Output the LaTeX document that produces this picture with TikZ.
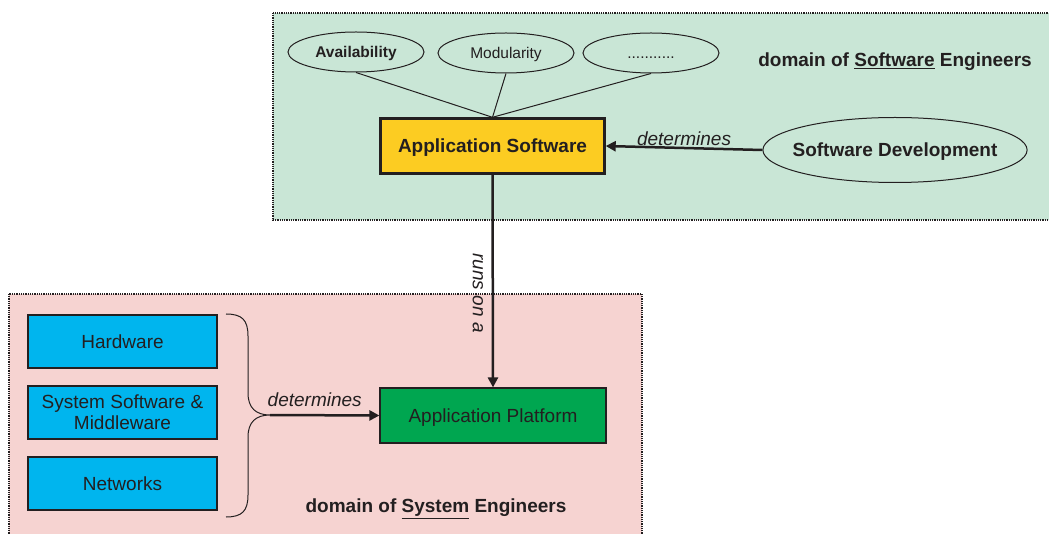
\documentclass[tikz,border=0pt]{standalone}
\usepackage{fontspec}
\setmainfont{Liberation Sans}
\usetikzlibrary{shapes.geometric,arrows.meta}
\definecolor{swbg}{RGB}{201,230,214}
\definecolor{sysbg}{RGB}{246,211,209}
\definecolor{appyel}{RGB}{252,204,34}
\definecolor{hwblue}{RGB}{0,181,238}
\definecolor{apgreen}{RGB}{0,166,80}
\definecolor{ink}{RGB}{35,31,32}
\tikzset{
  domainbox/.style={draw=ink, line width=1.6pt, dash pattern=on 1pt off 0.8pt},
  quality/.style={ellipse, draw=ink, line width=1pt, minimum width=136pt, minimum height=40pt, inner sep=0pt, text depth=0pt, text=ink, font=\fontsize{15.5}{18}\selectfont},
  compbox/.style={draw=ink, line width=1.2pt, fill=hwblue, minimum width=189pt, minimum height=53pt, inner sep=0pt, align=center, text=ink, font=\fontsize{19}{21}\selectfont},
  arr/.style={draw=ink, line width=2.5pt, -{Triangle[length=10pt,width=10pt]}},
  lbl/.style={text=ink, text depth=0pt, font=\fontsize{19}{22}\selectfont},
  itlbl/.style={text=ink, font=\fontsize{19}{22}\selectfont\itshape},
}
\begin{document}
\begin{tikzpicture}[x=1pt,y=-1pt]
\useasboundingbox (0,0) rectangle (1049,534);
\clip (0,0) rectangle (1049,534);
% domains
\path[domainbox, fill=swbg] (273,13) rectangle (1054,220);
\path[domainbox, fill=sysbg] (9,294) rectangle (642,545);
% quality ellipses
\node[quality] (av) at (356,52) {\textbf{Availability}};
\node[quality] (mo) at (506,53) {Modularity};
\node[quality, text height=11pt] (dots) at (651,53) {...........};
% application software
\node[draw=ink, line width=2.4pt, fill=appyel, minimum width=224pt, minimum height=55pt, inner sep=0pt, lbl] (as) at (492.5,146) {\textbf{Application Software}};
\draw[ink, line width=1pt] (av.south) -- (as.north);
\draw[ink, line width=1pt] (mo.south) -- (as.north);
\draw[ink, line width=1pt] (dots.south) -- (as.north);
% software development
\node[ellipse, draw=ink, line width=1pt, minimum height=65pt, inner xsep=-9pt, inner ysep=0pt, lbl] (sd) at (895,150) {\textbf{Software Development}};
\node[lbl] (swdom) at (895,60) {\textbf{domain of \underline{Software} Engineers}};
\draw[arr] (sd.west) -- node[itlbl, above, yshift=-2pt] (det1) {determines} (as.east);
% platform
\node[draw=ink, line width=1.2pt, fill=apgreen, minimum width=226pt, minimum height=55pt, inner sep=0pt, lbl] (ap) at (493,415.5) {Application Platform};
\draw[arr] (as.south) -- (ap.north);
\node[itlbl, rotate=-90] (runs) at (478,293) {runs on a};
% components
\node[compbox] (hw) at (122.5,341.5) {Hardware};
\node[compbox] (ss) at (122.5,412.5) {System Software \&\\Middleware};
\node[compbox] (nw) at (122.5,483.5) {Networks};
% brace
\coordinate (btop) at (226,314);
\coordinate (btip) at (270,415);
\coordinate (bbot) at (226,517);
\draw[ink, line width=1pt] (btop) .. controls (242,314) and (248,320) .. (248,336)
  -- (248,393) .. controls (248,408) and (256,415) .. (btip)
  .. controls (256,415) and (248,422) .. (248,437)
  -- (248,495) .. controls (248,511) and (242,517) .. (bbot);
\draw[arr] (btip) -- node[itlbl, above, yshift=4pt, xshift=-10pt] (det2) {determines} (ap.west);
\node[lbl] (sysdom) at (436,506) {\textbf{domain of \underline{System} Engineers}};
\end{tikzpicture}
\end{document}
